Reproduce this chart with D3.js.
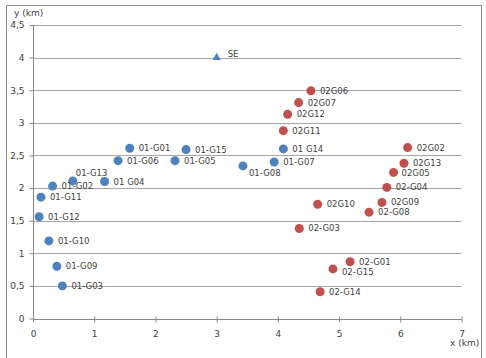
<!DOCTYPE html>
<html>
<head>
<meta charset="utf-8">
<script src="https://cdn.jsdelivr.net/npm/d3@7"></script>
<style>
  html, body { margin: 0; padding: 0; background: #fff; }
  svg text { font-family: "DejaVu Sans", Verdana, sans-serif; }
</style>
</head>
<body>
<svg id="chart" width="486" height="358"></svg>
<script>
// ---- data ----
const blueNames = ["01-G01","01-G02","01-G03","01 G04","01-G05","01-G06","01-G07","01-G08","01-G09","01-G10","01-G11","01-G12","01-G13","01 G14","01-G15"];
const blueX = [1.58, 0.32, 0.48, 1.17, 2.32, 1.39, 3.94, 3.43, 0.39, 0.26, 0.13, 0.10, 0.65, 4.09, 2.50];
const blueY = [2.61, 2.03, 0.50, 2.10, 2.42, 2.42, 2.40, 2.34, 0.80, 1.19, 1.86, 1.56, 2.11, 2.60, 2.59];

const redNames = ["02-G01","02G02","02-G03","02-G04","02G05","02G06","02G07","02-G08","02G09","02G10","02G11","02G12","02G13","02-G14","02-G15"];
const redX = [5.18, 6.12, 4.35, 5.78, 5.89, 4.54, 4.34, 5.49, 5.70, 4.65, 4.09, 4.16, 6.06, 4.69, 4.90];
const redY = [0.87, 2.62, 1.38, 2.01, 2.24, 3.49, 3.31, 1.63, 1.78, 1.75, 2.88, 3.13, 2.38, 0.41, 0.76];

const seName = ["SE"];
const seX = [3.0];
const seY = [4.0];

const xTicks = [0, 1, 2, 3, 4, 5, 6, 7];
const yTicks = [0, 0.5, 1, 1.5, 2, 2.5, 3, 3.5, 4, 4.5];
const xTitle = "x (km)";
const yTitle = "y (km)";

// ---- layout ----
const svg = d3.select("#chart");
const x = d3.scaleLinear().domain([0, 7]).range([33, 461.5]);
const y = d3.scaleLinear().domain([0, 4.5]).range([318.5, 25]);
const fmt = d => String(d).replace(".", ",");

// outer border (open at the bottom edge)
svg.append("path")
  .attr("d", "M6.5,358 V5.5 H481.5 V358")
  .attr("fill", "none").attr("stroke", "#8c8c8c").attr("stroke-width", 1);

// gridlines
svg.append("g").selectAll("line").data(yTicks.filter(d => d > 0)).join("line")
  .attr("x1", x(0)).attr("x2", x(7))
  .attr("y1", d => Math.round(y(d)) + 0.5).attr("y2", d => Math.round(y(d)) + 0.5)
  .attr("stroke", "#a6a6a6").attr("stroke-width", 1);

// axes
const xAxis = svg.append("g").attr("transform", `translate(0,${Math.round(y(0)) + 0.5})`)
  .call(d3.axisBottom(x).tickValues(xTicks).tickFormat(fmt).tickSize(3).tickPadding(8));
const yAxis = svg.append("g").attr("transform", `translate(${Math.round(x(0)) + 0.5},0)`)
  .call(d3.axisLeft(y).tickValues(yTicks).tickFormat(fmt).tickSize(4).tickPadding(5));
[xAxis, yAxis].forEach(a => {
  a.select(".domain").attr("stroke", "#868686");
  a.selectAll(".tick line").attr("stroke", "#868686");
  a.selectAll(".tick text").attr("fill", "#404040").attr("font-size", 9)
    .style("font-family", "'DejaVu Sans', Verdana, sans-serif");
});
xAxis.select(".domain").attr("d", `M${x(0)},0H${x(7)}`);
xAxis.selectAll(".tick line").attr("y1", -3).attr("y2", 3);
yAxis.select(".domain").attr("d", `M0,${y(0)}V${y(4.5)}`);

// axis titles
svg.append("text").attr("x", 14).attr("y", 16).attr("font-size", 9).attr("fill", "#404040").text(yTitle);
svg.append("text").attr("x", 450).attr("y", 346).attr("font-size", 9).attr("fill", "#404040").text(xTitle);

// label offset overrides (layout only)
const labelOffset = {
  "01-G13": [3, -8], "01-G08": [6, 7], "02-G15": [9, 3], "02G05": [8, 1], "SE": [11, -4]
};

function drawSeries(names, xs, ys, color) {
  const data = names.map((n, i) => ({ n, x: xs[i], y: ys[i] }));
  const g = svg.append("g");
  g.selectAll("circle").data(data).join("circle")
    .attr("cx", d => x(d.x)).attr("cy", d => y(d.y)).attr("r", 4.5)
    .attr("fill", color);
  g.selectAll("text").data(data).join("text")
    .attr("x", d => x(d.x) + (labelOffset[d.n] ? labelOffset[d.n][0] : 9))
    .attr("y", d => y(d.y) + (labelOffset[d.n] ? labelOffset[d.n][1] : 0))
    .attr("dy", "0.35em").attr("font-size", 8.5).attr("fill", "#404040")
    .text(d => d.n);
}
drawSeries(blueNames, blueX, blueY, "#4f81bd");
drawSeries(redNames, redX, redY, "#c0504d");

// SE triangle
const seData = seName.map((n, i) => ({ n, x: seX[i], y: seY[i] }));
const gs = svg.append("g");
gs.selectAll("path").data(seData).join("path")
  .attr("d", d3.symbol().type(d3.symbolTriangle).size(30))
  .attr("transform", d => `translate(${x(d.x)},${y(d.y)})`)
  .attr("fill", "#4f81bd");
gs.selectAll("text").data(seData).join("text")
  .attr("x", d => x(d.x) + labelOffset[d.n][0])
  .attr("y", d => y(d.y) + labelOffset[d.n][1])
  .attr("dy", "0.35em").attr("font-size", 8.5).attr("fill", "#404040")
  .text(d => d.n);
</script>
</body>
</html>
